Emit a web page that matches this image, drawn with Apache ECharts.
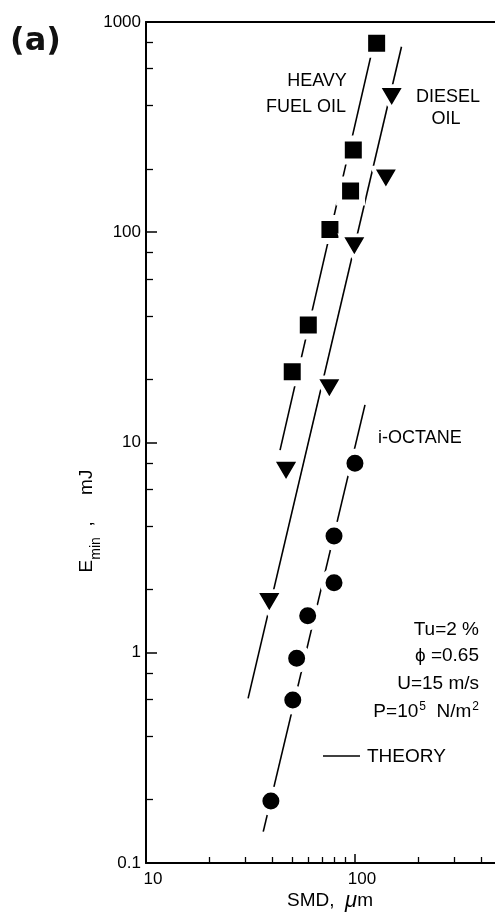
<!DOCTYPE html>
<html><head><meta charset="utf-8">
<script src="https://cdn.jsdelivr.net/npm/echarts@6/dist/echarts.min.js"></script>
<style>html,body{margin:0;padding:0;background:#fff}#c{width:495px;height:917px}</style>
</head><body><div id="c"></div>
<script>
// ---- data (SMD in µm, Emin in mJ) ----
const heavyFuelSMD = [127, 98.2, 95.3, 75.9, 59.8, 50.1];
const heavyFuelE   = [793, 246, 157, 103, 36.2, 21.7];
const dieselSMD    = [149.9, 140.6, 99.3, 75.4, 46.8, 38.9];
const dieselE      = [437, 179, 85.2, 18.0, 7.28, 1.73];
const octaneSMD    = [100, 79.4, 79.4, 59.4, 52.6, 50.4, 39.6];
const octaneE      = [7.96, 3.59, 2.15, 1.50, 0.942, 0.596, 0.197];
// theory lines (end points)
const theoryHeavySMD  = [118.9, 43.8];
const theoryHeavyE    = [683, 9.2];
const theoryDieselSMD = [167, 30.8];
const theoryDieselE   = [763, 0.607];
const theoryOctaneSMD = [111.7, 36.4];
const theoryOctaneE   = [15.1, 0.141];
// ticks
const xMajorTicks = [10, 100];
const xTickLabels = ['10', '100'];
const xMinorTicks = [20, 30, 40, 50, 60, 70, 80, 90, 200, 300, 400];
const yMajorTicks = [0.1, 1, 10, 100, 1000];
const yTickLabels = ['0.1', '1', '10', '100', '1000'];
const yMinorTicks = [0.2, 0.4, 0.6, 0.8, 2, 4, 6, 8, 20, 40, 60, 80, 200, 400, 600, 800];

const zip = (a, b) => a.map((v, i) => [v, b[i]]);
const FONT = '"Liberation Sans", Arial, sans-serif';
const chart = echarts.init(document.getElementById('c'), null, {renderer: 'canvas'});

function lbl(ticks, labels) {
  return v => {
    for (let i = 0; i < ticks.length; i++) {
      if (Math.abs(Math.log10(v) - Math.log10(ticks[i])) < 1e-6) return labels[i];
    }
    return '';
  };
}
const axisLine = {show: true, lineStyle: {color: '#000', width: 2}};
const X_MIN = 10, X_MAX = 468, Y_MIN = 0.1, Y_MAX = 1000;

const lineSeries = (name, xs, ys) => ({
  type: 'line', name, data: zip(xs, ys), showSymbol: false, symbol: 'none',
  lineStyle: {color: '#000', width: 1.6}, z: 2, silent: true, animation: false
});
const markSeries = (name, xs, ys, symbol, size, ring, rot) => ({
  type: 'scatter', name, data: zip(xs, ys), symbol,
  symbolSize: size,
  symbolRotate: rot || 0,
  itemStyle: {color: '#000', borderColor: '#fff', borderWidth: ring, opacity: 1},
  z: 5, silent: true, animation: false
});

chart.setOption({
  animation: false,
  backgroundColor: '#fff',
  grid: {left: 146, right: 0, top: 22, bottom: 54, containLabel: false},
  xAxis: [
    {type: 'log', min: X_MIN, max: X_MAX, position: 'bottom', axisLine,
      axisTick: {show: true, inside: true, length: 9, lineStyle: {color: '#000', width: 1.5}, customValues: xMajorTicks},
      axisLabel: {show: true, customValues: xMajorTicks, formatter: lbl(xMajorTicks, xTickLabels),
        color: '#000', fontFamily: FONT, fontSize: 17, margin: 8, padding: [0, 0, 0, 14]},
      splitLine: {show: false}, minorTick: {show: false}},
    {type: 'log', min: X_MIN, max: X_MAX, position: 'bottom', axisLine: {show: false},
      axisTick: {show: true, inside: true, length: 6, lineStyle: {color: '#000', width: 1.3}, customValues: xMinorTicks},
      axisLabel: {show: false}, splitLine: {show: false}},
    {type: 'log', min: X_MIN, max: X_MAX, position: 'top', axisLine,
      axisTick: {show: false}, axisLabel: {show: false}, splitLine: {show: false}}
  ],
  yAxis: [
    {type: 'log', min: Y_MIN, max: Y_MAX, position: 'left', axisLine,
      axisTick: {show: true, inside: true, length: 11, lineStyle: {color: '#000', width: 1.5}, customValues: yMajorTicks},
      axisLabel: {show: true, customValues: yMajorTicks, formatter: lbl(yMajorTicks, yTickLabels),
        color: '#000', fontFamily: FONT, fontSize: 17, margin: 5},
      splitLine: {show: false}},
    {type: 'log', min: Y_MIN, max: Y_MAX, position: 'left', axisLine: {show: false},
      axisTick: {show: true, inside: true, length: 7, lineStyle: {color: '#000', width: 1.3}, customValues: yMinorTicks},
      axisLabel: {show: false}, splitLine: {show: false}}
  ],
  series: [
    lineSeries('Theory heavy fuel oil', theoryHeavySMD, theoryHeavyE),
    lineSeries('Theory diesel oil', theoryDieselSMD, theoryDieselE),
    lineSeries('Theory i-octane', theoryOctaneSMD, theoryOctaneE),
    markSeries('Heavy fuel oil', heavyFuelSMD, heavyFuelE, 'rect', 23, 6),
    markSeries('Diesel oil', dieselSMD, dieselE, 'triangle', [27, 23], 4, 180),
    markSeries('i-Octane', octaneSMD, octaneE, 'circle', 23, 6)
  ],
  graphic: [
    {type: 'text', x: 10, y: 42, style: {text: '(a)', font: 'bold 32px "DejaVu Sans", sans-serif', fill: '#111', textVerticalAlign: 'middle'}},
    {type: 'text', x: 317, y: 81, style: {text: 'HEAVY', font: '18px ' + FONT, fill: '#000', textAlign: 'center', textVerticalAlign: 'middle'}},
    {type: 'text', x: 306, y: 107, style: {text: 'FUEL OIL', font: '18px ' + FONT, fill: '#000', textAlign: 'center', textVerticalAlign: 'middle'}},
    {type: 'text', x: 448, y: 97, style: {text: 'DIESEL', font: '18px ' + FONT, fill: '#000', textAlign: 'center', textVerticalAlign: 'middle'}},
    {type: 'text', x: 446, y: 119, style: {text: 'OIL', font: '18px ' + FONT, fill: '#000', textAlign: 'center', textVerticalAlign: 'middle'}},
    {type: 'text', x: 378, y: 438, style: {text: 'i-OCTANE', font: '18px ' + FONT, fill: '#000', textAlign: 'left', textVerticalAlign: 'middle'}},
    {type: 'text', x: 479, y: 630, style: {text: 'Tu=2 %', font: '19px ' + FONT, fill: '#000', textAlign: 'right', textVerticalAlign: 'middle'}},
    {type: 'text', x: 479, y: 656, style: {text: 'ϕ =0.65', font: '19px ' + FONT, fill: '#000', textAlign: 'right', textVerticalAlign: 'middle'}},
    {type: 'text', x: 479, y: 684, style: {text: 'U=15 m/s', font: '19px ' + FONT, fill: '#000', textAlign: 'right', textVerticalAlign: 'middle'}},
    {type: 'text', x: 479, y: 712, style: {
      text: '{n|P=10}{s|5}{n|  N/m}{s|2}', textAlign: 'right', textVerticalAlign: 'middle',
      rich: {n: {font: '19px ' + FONT, fill: '#000', lineHeight: 24},
             s: {font: '12px ' + FONT, fill: '#000', lineHeight: 24, padding: [0, 0, 10, 1]}}}},
    {type: 'line', shape: {x1: 323, y1: 756, x2: 360, y2: 756}, style: {stroke: '#000', lineWidth: 1.5}},
    {type: 'text', x: 367, y: 757, style: {text: 'THEORY', font: '19px ' + FONT, fill: '#000', textAlign: 'left', textVerticalAlign: 'middle'}},
    {type: 'text', x: 330, y: 901, style: {
      text: '{n|SMD,  }{mu|μ}{n|m}', textAlign: 'center', textVerticalAlign: 'middle',
      rich: {n: {font: '19px ' + FONT, fill: '#000'}, mu: {font: 'italic 22px ' + FONT, fill: '#000'}}}},
    {type: 'text', x: 90, y: 521, rotation: Math.PI / 2, style: {
      text: '{n|E}{s|min}{n|  ,     mJ}', textAlign: 'center', textVerticalAlign: 'middle',
      rich: {n: {font: '19px ' + FONT, fill: '#000', lineHeight: 26, verticalAlign: 'top'},
             s: {font: '14px ' + FONT, fill: '#000', lineHeight: 26, verticalAlign: 'bottom', padding: [8, 0, 0, 0]}}}}
  ]
});
</script></body></html>
